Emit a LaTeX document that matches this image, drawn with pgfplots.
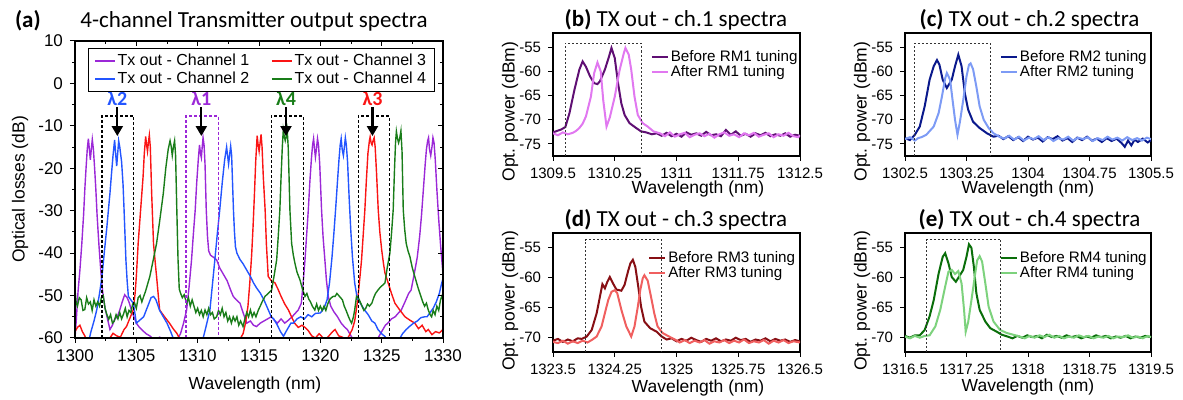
\documentclass[border=0pt]{standalone}
\usepackage{fontspec}
\setmainfont{Liberation Sans}
\newfontfamily\calib{Carlito}
\usepackage{pgfplots}
\pgfplotsset{compat=1.18}
\usetikzlibrary{arrows.meta}

\definecolor{cpur}{RGB}{155,40,215}
\definecolor{cblu}{RGB}{35,85,255}
\definecolor{cred}{RGB}{250,20,20}
\definecolor{cgrn}{RGB}{25,125,25}
\definecolor{bdark}{RGB}{95,15,115}
\definecolor{blight}{RGB}{225,120,240}
\definecolor{cdark}{RGB}{10,25,140}
\definecolor{clight}{RGB}{125,155,245}
\definecolor{ddark}{RGB}{135,15,20}
\definecolor{dlight}{RGB}{240,95,95}
\definecolor{edark}{RGB}{10,110,10}
\definecolor{elight}{RGB}{125,210,125}

\pgfplotsset{
  base/.style={scale only axis, anchor=south west,
    axis line style={line width=0.7pt}, tick style={line width=0.5pt, black},
    tick align=outside, major tick length=2.5pt, minor tick length=1.5pt,
    /pgf/number format/assume math mode=true, /pgf/number format/1000 sep={},
    scaled ticks=false, label style={font=\fontsize{8.75}{9}\selectfont}},
  small/.style={base, width=123.5pt, xtick pos=left, ytick pos=left,
    ticklabel style={font=\fontsize{7.5}{8}\selectfont},
    legend style={draw=none, fill=none, font=\fontsize{7.6}{7.6}\selectfont,
      anchor=north west, row sep=-1.5pt, nodes={inner sep=1pt}},
    legend cell align=left,
    legend image code/.code={\draw[##1,line width=1pt] (0pt,0pt) -- (8pt,0pt);}},
}
\tikzset{lamarrow/.style={-{Triangle[width=5.5pt,length=5pt]}, line width=1.1pt},
  lamlab/.style={font=\calib\bfseries\fontsize{10}{10}\selectfont},
  chbox/.style={line width=0.6pt, dash pattern=on 1.5pt off 1pt},
  dbox/.style={black!80, line width=0.5pt, dash pattern=on 1pt off 1pt}}

\begin{document}
\begin{tikzpicture}
\useasboundingbox (0,0) rectangle (591.5pt,200pt);

% ---------- (a) ----------
\node[anchor=base west, font=\calib\bfseries\fontsize{11.5}{12}\selectfont] at (4pt,186pt) {(a)};
\node[anchor=base, font=\calib\fontsize{11.5}{12}\selectfont] at (127pt,186pt) {4-channel Transmitter output spectra};

\begin{axis}[base, at={(37.5pt,31pt)}, width=184pt, height=148.5pt,
  xmin=1300, xmax=1330, ymin=-60, ymax=10,
  xtick={1300,1305,...,1330}, ytick={-60,-50,...,10},
  minor x tick num=1, minor y tick num=1, xtick pos=left, ytick pos=left,
  ticklabel style={font=\fontsize{8.5}{9}\selectfont},
  xlabel={Wavelength (nm)}, ylabel={Optical losses (dB)},
  xlabel style={at={(axis description cs:0.489,-0.158)}, anchor=center},
  ylabel style={at={(axis description cs:-0.149,0.5)}, anchor=center},
  legend columns=2, legend cell align=left,
  legend style={at={(0.035,0.975)}, anchor=north west, draw=black, line width=0.4pt,
    font=\fontsize{8}{8}\selectfont, nodes={inner sep=0.9pt}, row sep=0pt,
    inner xsep=3pt, inner ysep=1.5pt,
    /tikz/every even column/.append style={column sep=10pt}},
  legend image code/.code={\draw[#1,line width=0.8pt] (0pt,0pt) -- (10pt,0pt);}]

\addplot[cpur, line width=0.7pt] coordinates {
(1300.00,-60) (1300.10,-56) (1300.25,-49) (1300.40,-44) (1300.55,-38) (1300.70,-31)
(1300.80,-25) (1300.90,-20) (1301.00,-15.5) (1301.09,-13) (1301.17,-15.5) (1301.25,-18)
(1301.33,-15.5) (1301.41,-13.2) (1301.50,-15.5) (1301.60,-20) (1301.70,-25) (1301.80,-31)
(1301.95,-38) (1302.10,-44) (1302.25,-49) (1302.45,-53) (1302.65,-55.5) (1302.85,-58)
(1303.05,-57) (1303.25,-55.5) (1303.45,-55) (1303.65,-53.4) (1303.85,-51.5) (1304.05,-49.8)
(1304.25,-50.5) (1304.40,-51.5) (1304.60,-53.4) (1304.80,-55) (1305.00,-56.5) (1305.25,-57.5)
(1305.50,-58.2) (1305.80,-59) (1306.10,-59.5) (1306.50,-60.5) (1306.90,-59.8) (1307.30,-60.5)
(1307.70,-60.2) (1308.10,-61) (1308.40,-60) (1308.60,-59) (1308.85,-56.5) (1309.10,-53.4)
(1309.30,-48) (1309.50,-41.6) (1309.65,-35.5) (1309.80,-29.8) (1309.92,-23.5) (1310.05,-18)
(1310.15,-14.5) (1310.23,-16.5) (1310.30,-17.5) (1310.37,-15) (1310.44,-12.8) (1310.52,-14.5)
(1310.60,-19) (1310.70,-29.8) (1310.80,-36) (1310.90,-39.5) (1311.05,-40.5) (1311.30,-41)
(1311.55,-41.6) (1311.80,-43.5) (1312.10,-45) (1312.40,-46.5) (1312.70,-48.8) (1312.90,-50.2)
(1313.15,-51) (1313.45,-51.8) (1313.70,-54) (1314.00,-56.5) (1314.30,-56) (1314.55,-57)
(1314.80,-57.3) (1315.10,-56.5) (1315.40,-56) (1315.70,-55.5) (1316.00,-55) (1316.25,-55.8)
(1316.50,-56.5) (1316.80,-55.5) (1317.10,-56.5) (1317.40,-55.8) (1317.70,-55) (1317.95,-54.2)
(1318.20,-53.4) (1318.45,-51.8) (1318.60,-47) (1318.75,-41.6) (1318.90,-35) (1319.02,-29.8)
(1319.15,-23) (1319.28,-17.5) (1319.37,-14.5) (1319.45,-13) (1319.53,-15.5) (1319.60,-17.4)
(1319.68,-15.5) (1319.77,-13) (1319.85,-14.5) (1319.95,-19) (1320.10,-29.8) (1320.22,-36)
(1320.37,-41.6) (1320.50,-46.5) (1320.65,-50.2) (1320.85,-52.5) (1321.10,-53.8) (1321.40,-55)
(1321.70,-56.5) (1322.00,-57.5) (1322.20,-58) (1322.50,-59.5) (1322.80,-61) (1323.50,-61)
(1324.20,-61) (1324.70,-60) (1325.00,-58.5) (1325.30,-57) (1325.50,-56.5) (1325.80,-55.5)
(1326.10,-55) (1326.40,-54) (1326.60,-53.4) (1326.90,-51.5) (1327.20,-49.5) (1327.40,-48.7)
(1327.65,-45) (1327.90,-41) (1328.10,-36) (1328.25,-31) (1328.40,-25) (1328.55,-19)
(1328.65,-15.5) (1328.75,-13.5) (1328.82,-12.8) (1328.90,-15.5) (1329.00,-17) (1329.10,-15)
(1329.18,-12.8) (1329.27,-14) (1329.37,-18) (1329.50,-25) (1329.65,-32) (1329.80,-38)
(1330.00,-45)};
\addlegendentry{Tx out - Channel 1}

\addplot[cred, line width=0.7pt] coordinates {
(1300.00,-58.5) (1300.20,-57.5) (1300.40,-57) (1300.60,-58.5) (1300.80,-59.5) (1301.00,-61)
(1301.50,-61.5) (1302.20,-61.5) (1302.80,-60.2) (1303.10,-58.9) (1303.40,-59.5) (1303.70,-59.8)
(1304.00,-58) (1304.20,-57.3) (1304.45,-55.5) (1304.75,-53.4) (1304.90,-49.5) (1305.00,-45.5)
(1305.15,-37.7) (1305.35,-29.8) (1305.55,-22) (1305.65,-16.5) (1305.76,-12.5) (1305.84,-14.5)
(1305.91,-16) (1305.98,-14) (1306.06,-12.2) (1306.14,-15) (1306.25,-25.9) (1306.40,-37.7)
(1306.55,-42.5) (1306.65,-45.5) (1306.90,-53.4) (1307.30,-55) (1307.70,-56.5) (1308.00,-57.8)
(1308.30,-58.9) (1308.60,-60.5) (1309.00,-61.5) (1313.00,-61.5) (1313.40,-60.5) (1313.70,-59)
(1313.90,-56.5) (1314.10,-52.5) (1314.25,-47) (1314.40,-40.5) (1314.52,-33.5) (1314.63,-26)
(1314.73,-18.5) (1314.85,-12.3) (1314.93,-14.5) (1315.01,-16) (1315.09,-14) (1315.17,-12)
(1315.25,-15) (1315.35,-22) (1315.50,-29.8) (1315.60,-37.7) (1315.75,-45.5) (1316.00,-46.5)
(1316.30,-47) (1316.55,-48.5) (1316.80,-50.2) (1317.10,-52) (1317.40,-53.4) (1317.65,-55)
(1317.90,-56.5) (1318.20,-57.5) (1318.50,-57) (1318.75,-57.5) (1319.00,-58.2) (1319.30,-59.5)
(1319.60,-60) (1319.90,-59) (1320.10,-59.6) (1320.40,-60.5) (1320.70,-59.5) (1321.00,-58.5)
(1321.20,-58) (1321.50,-59.5) (1321.80,-59.8) (1322.10,-60.5) (1322.30,-59.7) (1322.60,-58)
(1322.80,-56) (1323.00,-52) (1323.10,-49.4) (1323.25,-45) (1323.36,-41.6) (1323.50,-35.5)
(1323.63,-29.8) (1323.75,-23) (1323.88,-16.5) (1324.00,-13.5) (1324.06,-12.6) (1324.14,-14)
(1324.22,-14.5) (1324.30,-13.5) (1324.39,-12.8) (1324.47,-15) (1324.58,-21) (1324.72,-29.8)
(1324.85,-35) (1325.00,-39.2) (1325.15,-42.5) (1325.27,-44.7) (1325.53,-47) (1325.80,-49.5)
(1326.08,-51.8) (1326.50,-53.5) (1326.90,-55) (1327.30,-55.8) (1327.70,-56.5) (1328.00,-57.8)
(1328.30,-57) (1328.60,-58.5) (1328.80,-58) (1329.10,-59.2) (1329.40,-58.5) (1329.70,-58.8)
(1330.00,-58)};
\addlegendentry{Tx out - Channel 3}

\addplot[cblu, line width=0.7pt] coordinates {
(1300.00,-62) (1300.80,-62) (1301.10,-61) (1301.30,-58.5) (1301.55,-56) (1301.77,-53.4)
(1302.00,-49.5) (1302.20,-45.5) (1302.40,-39.5) (1302.60,-33.8) (1302.75,-29) (1302.85,-25.9)
(1302.97,-21.5) (1303.10,-17) (1303.23,-13.3) (1303.31,-16.5) (1303.40,-19.5) (1303.48,-16.5)
(1303.56,-13.5) (1303.65,-15) (1303.80,-18.5) (1303.92,-24) (1304.00,-29.8) (1304.08,-36)
(1304.15,-41.6) (1304.25,-46.5) (1304.35,-50.2) (1304.55,-51) (1304.75,-51.8) (1304.90,-54.5)
(1305.00,-56.5) (1305.20,-56) (1305.40,-55.5) (1305.60,-55) (1305.80,-53.5) (1306.00,-52)
(1306.20,-50.5) (1306.40,-50.2) (1306.60,-51) (1306.90,-53.5) (1307.20,-55) (1307.50,-56.5)
(1307.80,-58.5) (1308.00,-60) (1308.30,-61.5) (1309.80,-62) (1310.20,-61.5) (1310.45,-60)
(1310.75,-56.5) (1311.00,-53.4) (1311.20,-47.5) (1311.40,-41.6) (1311.60,-35.5) (1311.80,-29.8)
(1312.00,-23.5) (1312.20,-18) (1312.36,-15) (1312.44,-17) (1312.52,-19) (1312.60,-17)
(1312.69,-14.8) (1312.77,-17) (1312.85,-24) (1312.92,-30) (1313.00,-35) (1313.08,-38.5)
(1313.20,-40) (1313.45,-41.5) (1313.70,-42.5) (1314.00,-44) (1314.30,-45.5) (1314.55,-47)
(1314.80,-48.2) (1315.10,-49.4) (1315.40,-51) (1315.70,-53) (1316.00,-55) (1316.20,-55.5)
(1316.50,-57) (1316.75,-58.5) (1317.00,-59.6) (1317.20,-58.5) (1317.40,-57.5) (1317.60,-56.5)
(1317.80,-56.5) (1318.10,-55.5) (1318.40,-55) (1318.70,-55.5) (1319.00,-54.5) (1319.30,-55)
(1319.60,-54.2) (1320.00,-54.1) (1320.30,-53) (1320.55,-51) (1320.75,-47) (1320.95,-41)
(1321.10,-35.5) (1321.25,-29.5) (1321.40,-23) (1321.52,-18) (1321.62,-14.5) (1321.70,-13)
(1321.78,-15.5) (1321.88,-17) (1321.96,-15) (1322.04,-12.8) (1322.12,-14.5) (1322.22,-18.5)
(1322.35,-27) (1322.48,-34.5) (1322.62,-41) (1322.80,-47) (1323.00,-50.5) (1323.30,-52)
(1323.60,-53.4) (1323.90,-54.5) (1324.20,-56) (1324.45,-56.5) (1324.70,-58) (1325.00,-59)
(1325.25,-59.6) (1325.50,-60.5) (1325.80,-61) (1326.10,-61.5) (1326.40,-60.5) (1326.70,-59)
(1327.00,-58) (1327.30,-57.2) (1327.60,-56.5) (1327.90,-56) (1328.20,-55.2) (1328.50,-55)
(1328.70,-55) (1328.95,-54) (1329.20,-53) (1329.45,-51.5) (1329.70,-49.5) (1329.90,-47)
(1330.00,-46)};
\addlegendentry{Tx out - Channel 2}

\addplot[cgrn, line width=0.7pt] coordinates {
(1300.00,-48.6) (1300.10,-51.7) (1300.20,-52.5) (1300.35,-50.5) (1300.50,-51) (1300.65,-53.5)
(1300.80,-53.3) (1300.95,-50.5) (1301.10,-52) (1301.25,-51.5) (1301.40,-53.5) (1301.55,-51)
(1301.70,-52.5) (1301.85,-51.5) (1302.00,-52.5) (1302.15,-50.5) (1302.30,-50) (1302.45,-53)
(1302.60,-54.5) (1302.75,-55.6) (1302.90,-54.5) (1303.05,-56.5) (1303.20,-56) (1303.35,-54.5)
(1303.50,-55.5) (1303.65,-54) (1303.80,-55.5) (1303.95,-54.4) (1304.10,-53) (1304.25,-55)
(1304.40,-53.5) (1304.55,-54) (1304.70,-52) (1304.85,-51.7) (1305.00,-53) (1305.15,-50.5)
(1305.30,-50) (1305.45,-51.5) (1305.60,-50.2) (1305.75,-49) (1305.90,-47.5) (1306.10,-45.5)
(1306.35,-42) (1306.65,-37.7) (1306.90,-32.5) (1307.20,-25.9) (1307.40,-20) (1307.60,-15.5)
(1307.75,-13.5) (1307.84,-14.8) (1307.93,-17) (1308.02,-15) (1308.12,-13.5) (1308.20,-17)
(1308.30,-29.8) (1308.40,-41.6) (1308.50,-48.5) (1308.60,-49.4) (1308.75,-50.5) (1308.90,-49.8)
(1309.10,-51.8) (1309.25,-50.5) (1309.40,-52.5) (1309.55,-51) (1309.70,-52.5) (1309.85,-54)
(1310.00,-53) (1310.15,-54.5) (1310.30,-53.5) (1310.45,-55) (1310.60,-53.4) (1310.75,-54.5)
(1310.90,-53) (1311.05,-54.5) (1311.20,-54) (1311.35,-55.5) (1311.55,-55) (1311.70,-53.5)
(1311.85,-54.5) (1312.00,-53) (1312.15,-55) (1312.30,-54) (1312.45,-56) (1312.60,-55)
(1312.75,-56.5) (1312.90,-55) (1313.05,-56) (1313.20,-55) (1313.35,-57) (1313.50,-56)
(1313.70,-57.3) (1313.85,-55.5) (1314.00,-54) (1314.15,-55) (1314.30,-53.4) (1314.45,-55)
(1314.60,-54) (1314.75,-55) (1314.95,-53.4) (1315.10,-52.5) (1315.25,-51.5) (1315.49,-50.2)
(1315.75,-49.5) (1316.03,-48.7) (1316.25,-45) (1316.44,-41.6) (1316.57,-36) (1316.70,-29.8)
(1316.80,-22) (1316.90,-15) (1316.98,-11) (1317.06,-12.5) (1317.14,-13.5) (1317.22,-12.5)
(1317.30,-11) (1317.38,-15) (1317.45,-22) (1317.52,-29.8) (1317.66,-37.7) (1317.80,-40.5)
(1317.93,-42.4) (1318.10,-44.5) (1318.34,-46.3) (1318.55,-48.5) (1318.75,-50.2) (1318.90,-49.5)
(1319.05,-50.8) (1319.20,-51.5) (1319.35,-52.5) (1319.55,-53.4) (1319.70,-52) (1319.85,-53.5)
(1320.00,-52.5) (1320.15,-53.5) (1320.30,-52.5) (1320.45,-53.5) (1320.60,-52) (1320.75,-51)
(1320.90,-50.5) (1321.05,-50.2) (1321.20,-50.2) (1321.35,-49.5) (1321.50,-50) (1321.65,-50.5)
(1321.80,-51) (1321.95,-52.5) (1322.10,-53.5) (1322.30,-55) (1322.45,-56) (1322.55,-56.5)
(1322.70,-55) (1322.80,-53.4) (1322.95,-50.2) (1323.10,-50.5) (1323.25,-51.5) (1323.40,-52.5)
(1323.55,-53.5) (1323.70,-53) (1323.85,-52) (1324.00,-52.5) (1324.20,-51.8) (1324.35,-50.5)
(1324.50,-49.5) (1324.70,-48.7) (1324.90,-48) (1325.10,-47.5) (1325.27,-47) (1325.45,-43.5)
(1325.67,-40) (1325.80,-35.5) (1325.94,-29.8) (1326.05,-20) (1326.13,-14) (1326.20,-11.3)
(1326.29,-13) (1326.38,-14) (1326.47,-13) (1326.57,-11.2) (1326.66,-16) (1326.76,-29.8)
(1326.88,-34.5) (1327.00,-37.7) (1327.15,-39.5) (1327.30,-40.8) (1327.50,-43.5) (1327.70,-45.5)
(1327.95,-48) (1328.20,-50.2) (1328.35,-51.5) (1328.50,-52.5) (1328.65,-51.8) (1328.80,-53.4)
(1328.95,-54.5) (1329.07,-55) (1329.20,-53.5) (1329.35,-54.5) (1329.50,-52.5) (1329.65,-53.5)
(1329.80,-51) (1329.90,-50.2) (1330.00,-51)};
\addlegendentry{Tx out - Channel 4}

% channel markers
\draw[chbox, black] (axis cs:1302.2,-60) -- (axis cs:1302.2,-7.7) -- (axis cs:1304.8,-7.7) -- (axis cs:1304.8,-60);
\draw[chbox, cpur] (axis cs:1309.05,-60) -- (axis cs:1309.05,-7.7) -- (axis cs:1311.7,-7.7) -- (axis cs:1311.7,-60);
\draw[chbox, black] (axis cs:1316.0,-60) -- (axis cs:1316.0,-7.7) -- (axis cs:1318.6,-7.7) -- (axis cs:1318.6,-60);
\draw[chbox, black] (axis cs:1323.1,-60) -- (axis cs:1323.1,-7.7) -- (axis cs:1325.65,-7.7) -- (axis cs:1325.65,-60);
\draw[lamarrow] (axis cs:1303.45,-5.6) -- (axis cs:1303.45,-12.4);
\draw[lamarrow] (axis cs:1310.3,-5.6) -- (axis cs:1310.3,-12.4);
\draw[lamarrow] (axis cs:1317.2,-5.6) -- (axis cs:1317.2,-12.4);
\draw[lamarrow] (axis cs:1324.25,-5.6) -- (axis cs:1324.25,-12.4);
\node[lamlab, text=cblu] at (axis cs:1303.45,-3.6) {λ2};
\node[lamlab, text=cpur] at (axis cs:1310.3,-3.6) {λ1};
\node[lamlab, text=cgrn] at (axis cs:1317.2,-3.6) {λ4};
\node[lamlab, text=cred] at (axis cs:1324.25,-3.6) {λ3};
\end{axis}

% mirrored inward ticks on top and right of (a)
\begin{axis}[base, at={(37.5pt,31pt)}, width=184pt, height=148.5pt,
  xmin=1300, xmax=1330, ymin=-60, ymax=10,
  xtick={1300,1305,...,1330}, ytick={-60,-50,...,10},
  minor x tick num=1, minor y tick num=1, tick align=inside,
  xtick pos=right, ytick pos=right, xticklabels={}, yticklabels={}]
\end{axis}

% ---------- (b) ----------
\node[anchor=base, font=\calib\fontsize{11.5}{12}\selectfont] at (338pt,186.75pt) {\textbf{(b)} TX out - ch.1 spectra};
\begin{axis}[small, at={(276.5pt,122pt)}, height=61.5pt,
  xmin=1309.5, xmax=1312.5, ymin=-77.5, ymax=-52,
  xtick={1309.5,1310.25,1311,1311.75,1312.5}, ytick={-75,-70,...,-55},
  xlabel={Wavelength (nm)}, ylabel={Opt. power (dBm)},
  xlabel style={at={(axis description cs:0.587,-0.265)}, anchor=center},
  ylabel style={at={(axis description cs:-0.174,0.36)}, anchor=center},
  legend style={at={(0.37,0.91)}}]
\addplot[bdark, line width=1pt] coordinates {
(1309.50,-72.6) (1309.55,-72.3) (1309.60,-72.0) (1309.65,-71.5) (1309.70,-68.6) (1309.76,-63.8)
(1309.82,-59.6) (1309.86,-57.9) (1309.90,-59.0) (1309.95,-61.0) (1310.00,-62.4) (1310.04,-62.6)
(1310.07,-62.0) (1310.13,-59.6) (1310.18,-56.9) (1310.21,-55.1) (1310.25,-57.2) (1310.29,-62.4)
(1310.33,-66.6) (1310.37,-69.0) (1310.43,-70.7) (1310.51,-71.7) (1310.57,-72.4) (1310.63,-72.6)
(1310.70,-73.0) (1310.76,-72.8) (1310.82,-73.3) (1310.88,-72.7) (1310.94,-73.4) (1311.00,-72.9)
(1311.06,-73.5) (1311.12,-72.6) (1311.18,-73.1) (1311.24,-72.8) (1311.30,-73.3) (1311.36,-72.5)
(1311.42,-73.2) (1311.48,-73.0) (1311.54,-73.4) (1311.60,-72.1) (1311.66,-73.1) (1311.72,-72.4)
(1311.78,-73.3) (1311.84,-72.9) (1311.90,-73.5) (1311.96,-72.8) (1312.02,-73.2) (1312.08,-72.7)
(1312.14,-73.4) (1312.20,-73.0) (1312.26,-73.3) (1312.32,-72.8) (1312.38,-73.5) (1312.44,-73.1)
(1312.50,-73.3)};
\addlegendentry{Before RM1 tuning}
\addplot[blight, line width=1pt] coordinates {
(1309.50,-72.8) (1309.56,-73.2) (1309.62,-72.6) (1309.68,-73.0) (1309.74,-72.7) (1309.78,-72.3)
(1309.82,-71.7) (1309.86,-70.8) (1309.90,-69.3) (1309.96,-65.2) (1310.00,-60.3) (1310.04,-58.1)
(1310.08,-60.0) (1310.11,-65.9) (1310.15,-71.4) (1310.19,-69.5) (1310.25,-65.2) (1310.31,-59.6)
(1310.36,-56.2) (1310.38,-55.1) (1310.42,-56.5) (1310.45,-59.6) (1310.49,-65.2) (1310.53,-69.0)
(1310.59,-70.7) (1310.65,-71.4) (1310.72,-72.4) (1310.80,-72.8) (1310.86,-73.4) (1310.92,-72.6)
(1310.98,-73.5) (1311.04,-73.0) (1311.10,-72.7) (1311.16,-73.6) (1311.22,-73.1) (1311.28,-72.8)
(1311.34,-73.4) (1311.40,-72.9) (1311.46,-73.7) (1311.52,-73.0) (1311.58,-72.6) (1311.64,-73.3)
(1311.70,-73.0) (1311.76,-73.6) (1311.82,-72.8) (1311.88,-73.2) (1311.94,-72.7) (1312.00,-73.5)
(1312.06,-73.1) (1312.12,-72.8) (1312.18,-73.6) (1312.24,-73.0) (1312.30,-73.3) (1312.36,-72.7)
(1312.42,-73.4) (1312.48,-73.6) (1312.50,-73.2)};
\addlegendentry{After RM1 tuning}
\draw[dbox] (axis cs:1309.65,-77.5) -- (axis cs:1309.65,-54.1) -- (axis cs:1310.57,-54.1) -- (axis cs:1310.57,-77.5);
\end{axis}

% ---------- (c) ----------
\node[anchor=base, font=\calib\fontsize{11.5}{12}\selectfont] at (514.75pt,186.75pt) {\textbf{(c)} TX out - ch.2 spectra};
\begin{axis}[small, at={(452.5pt,122pt)}, width=123pt, height=61.5pt,
  xmin=1302.5, xmax=1305.5, ymin=-77.5, ymax=-52,
  xtick={1302.5,1303.25,1304,1304.75,1305.5}, ytick={-75,-70,...,-55},
  xlabel={Wavelength (nm)}, ylabel={Opt. power (dBm)},
  xlabel style={at={(axis description cs:0.5,-0.265)}, anchor=center},
  ylabel style={at={(axis description cs:-0.174,0.36)}, anchor=center},
  legend style={at={(0.36,0.91)}}]
\addplot[cdark, line width=1pt] coordinates {
(1302.50,-73.8) (1302.56,-74.2) (1302.62,-73.1) (1302.68,-71.4) (1302.74,-67.2) (1302.80,-61.7)
(1302.85,-58.9) (1302.89,-57.6) (1302.92,-58.6) (1302.96,-61.7) (1303.01,-63.4) (1303.07,-61.7)
(1303.11,-58.9) (1303.15,-56.5) (1303.19,-58.9) (1303.23,-64.5) (1303.27,-67.9) (1303.33,-70.4)
(1303.41,-71.7) (1303.50,-72.8) (1303.58,-73.5) (1303.64,-73.3) (1303.70,-74.0) (1303.76,-73.4)
(1303.82,-74.2) (1303.88,-73.6) (1303.94,-74.4) (1304.00,-73.5) (1304.06,-74.1) (1304.12,-73.7)
(1304.18,-74.5) (1304.24,-73.6) (1304.30,-74.0) (1304.36,-73.4) (1304.42,-74.3) (1304.48,-73.8)
(1304.54,-74.6) (1304.60,-73.7) (1304.66,-74.2) (1304.72,-73.5) (1304.78,-74.3) (1304.84,-73.9)
(1304.90,-74.6) (1304.96,-73.8) (1305.02,-74.4) (1305.08,-73.9) (1305.14,-74.8) (1305.18,-75.6)
(1305.22,-74.3) (1305.26,-75.3) (1305.30,-74.1) (1305.34,-74.6) (1305.40,-73.9) (1305.46,-74.7)
(1305.50,-74.2)};
\addlegendentry{Before RM2 tuning}
\addplot[clight, line width=1pt] coordinates {
(1302.50,-74.0) (1302.56,-73.6) (1302.62,-74.3) (1302.66,-73.8) (1302.70,-73.6) (1302.76,-73.1)
(1302.85,-71.4) (1302.91,-68.6) (1302.95,-65.2) (1302.99,-61.4) (1303.01,-60.3) (1303.05,-61.7)
(1303.08,-65.9) (1303.11,-70.0) (1303.14,-73.1) (1303.17,-70.4) (1303.21,-65.9) (1303.25,-61.0)
(1303.28,-58.6) (1303.30,-58.3) (1303.33,-59.5) (1303.37,-63.1) (1303.41,-67.2) (1303.46,-70.0)
(1303.52,-71.7) (1303.58,-72.8) (1303.65,-73.5) (1303.71,-73.9) (1303.77,-73.3) (1303.83,-74.1)
(1303.89,-73.5) (1303.95,-74.3) (1304.01,-73.7) (1304.07,-74.0) (1304.13,-73.4) (1304.19,-74.2)
(1304.25,-73.6) (1304.31,-74.4) (1304.37,-73.8) (1304.43,-74.1) (1304.49,-73.5) (1304.55,-74.3)
(1304.61,-73.7) (1304.67,-74.0) (1304.73,-73.6) (1304.79,-74.4) (1304.85,-73.8) (1304.91,-74.2)
(1304.97,-73.5) (1305.03,-74.1) (1305.09,-73.7) (1305.15,-74.3) (1305.21,-73.6) (1305.27,-74.2)
(1305.33,-73.8) (1305.39,-74.3) (1305.45,-73.7) (1305.50,-74.0)};
\addlegendentry{After RM2 tuning}
\draw[dbox] (axis cs:1302.62,-77.5) -- (axis cs:1302.62,-54.1) -- (axis cs:1303.54,-54.1) -- (axis cs:1303.54,-77.5);
\end{axis}

% ---------- (d) ----------
\node[anchor=base, font=\calib\fontsize{11.5}{12}\selectfont] at (338pt,86.75pt) {\textbf{(d)} TX out - ch.3 spectra};
\begin{axis}[small, at={(276.5pt,24pt)}, height=59.5pt,
  xmin=1323.5, xmax=1326.5, ymin=-72.5, ymax=-52.5,
  xtick={1323.5,1324.25,1325,1325.75,1326.5}, ytick={-70,-65,...,-55},
  xlabel={Wavelength (nm)}, ylabel={Opt. power (dBm)},
  xlabel style={at={(axis description cs:0.587,-0.3)}, anchor=center},
  ylabel style={at={(axis description cs:-0.174,0.43)}, anchor=center},
  legend style={at={(0.36,0.9)}}]
\addplot[ddark, line width=1pt] coordinates {
(1323.50,-70.6) (1323.56,-70.3) (1323.62,-70.8) (1323.68,-70.4) (1323.74,-70.7) (1323.80,-70.2)
(1323.85,-70.3) (1323.91,-69.9) (1323.97,-68.8) (1324.03,-66.0) (1324.07,-63.2) (1324.10,-61.1)
(1324.13,-61.8) (1324.16,-60.7) (1324.19,-59.9) (1324.23,-61.0) (1324.27,-62.0) (1324.33,-62.2)
(1324.37,-61.2) (1324.41,-59.0) (1324.44,-57.6) (1324.47,-57.0) (1324.50,-58.2) (1324.53,-61.0)
(1324.57,-64.9) (1324.61,-67.4) (1324.68,-68.5) (1324.76,-69.1) (1324.82,-69.9) (1324.88,-70.4)
(1324.94,-70.2) (1325.00,-70.7) (1325.06,-70.3) (1325.12,-70.6) (1325.18,-70.1) (1325.24,-70.5)
(1325.30,-70.8) (1325.36,-70.3) (1325.42,-70.6) (1325.48,-70.2) (1325.54,-70.7) (1325.60,-70.4)
(1325.66,-70.6) (1325.72,-70.1) (1325.78,-70.5) (1325.84,-70.3) (1325.90,-70.8) (1325.96,-70.4)
(1326.02,-70.6) (1326.08,-70.2) (1326.14,-70.7) (1326.20,-70.3) (1326.26,-70.6) (1326.32,-70.4)
(1326.38,-70.8) (1326.44,-70.5) (1326.50,-70.7)};
\addlegendentry{Before RM3 tuning}
\addplot[dlight, line width=1pt] coordinates {
(1323.50,-70.8) (1323.56,-71.0) (1323.62,-70.6) (1323.68,-71.1) (1323.74,-70.7) (1323.80,-71.0)
(1323.86,-70.6) (1323.92,-70.9) (1323.98,-70.4) (1324.03,-69.9) (1324.09,-68.2) (1324.13,-66.0)
(1324.17,-63.8) (1324.21,-62.4) (1324.25,-62.1) (1324.28,-62.6) (1324.33,-65.4) (1324.39,-68.2)
(1324.45,-69.9) (1324.49,-68.2) (1324.53,-64.9) (1324.56,-62.1) (1324.59,-60.1) (1324.61,-59.6)
(1324.65,-60.5) (1324.69,-63.2) (1324.73,-66.0) (1324.77,-68.2) (1324.83,-69.3) (1324.91,-69.9)
(1324.98,-70.4) (1325.04,-70.9) (1325.10,-70.5) (1325.16,-71.0) (1325.22,-70.6) (1325.28,-70.9)
(1325.34,-70.5) (1325.40,-71.1) (1325.46,-70.7) (1325.52,-70.9) (1325.58,-70.5) (1325.64,-71.0)
(1325.70,-70.6) (1325.76,-70.9) (1325.82,-70.4) (1325.88,-71.0) (1325.94,-70.7) (1326.00,-70.9)
(1326.06,-70.5) (1326.12,-71.1) (1326.18,-70.6) (1326.24,-70.9) (1326.30,-70.5) (1326.36,-71.0)
(1326.42,-70.7) (1326.50,-70.9)};
\addlegendentry{After RM3 tuning}
\draw[dbox] (axis cs:1323.9,-72.5) -- (axis cs:1323.9,-53.6) -- (axis cs:1324.82,-53.6) -- (axis cs:1324.82,-72.5);
\end{axis}

% ---------- (e) ----------
\node[anchor=base, font=\calib\fontsize{11.5}{12}\selectfont] at (514.75pt,86.75pt) {\textbf{(e)} TX out - ch.4 spectra};
\begin{axis}[small, at={(452.5pt,24pt)}, width=123pt, height=59.5pt,
  xmin=1316.5, xmax=1319.5, ymin=-72.5, ymax=-52.5,
  xtick={1316.5,1317.25,1318,1318.75,1319.5}, ytick={-70,-65,...,-55},
  xlabel={Wavelength (nm)}, ylabel={Opt. power (dBm)},
  xlabel style={at={(axis description cs:0.5,-0.29)}, anchor=center},
  ylabel style={at={(axis description cs:-0.174,0.43)}, anchor=center},
  legend style={at={(0.36,0.9)}}]
\addplot[edark, line width=1pt] coordinates {
(1316.50,-69.8) (1316.56,-70.1) (1316.62,-69.7) (1316.68,-69.7) (1316.74,-68.8) (1316.80,-66.5)
(1316.85,-63.8) (1316.91,-59.3) (1316.96,-56.5) (1316.99,-55.9) (1317.03,-57.6) (1317.07,-59.9)
(1317.12,-60.7) (1317.17,-59.6) (1317.21,-58.7) (1317.25,-56.5) (1317.28,-54.4) (1317.31,-55.0)
(1317.34,-58.2) (1317.37,-62.6) (1317.41,-65.4) (1317.48,-67.4) (1317.54,-68.5) (1317.62,-69.1)
(1317.68,-69.6) (1317.75,-69.9) (1317.81,-70.2) (1317.87,-69.8) (1317.93,-70.1) (1317.99,-69.7)
(1318.05,-70.0) (1318.11,-69.8) (1318.17,-70.2) (1318.23,-69.6) (1318.29,-70.0) (1318.35,-69.8)
(1318.41,-70.1) (1318.47,-69.7) (1318.53,-70.0) (1318.59,-69.8) (1318.65,-70.2) (1318.71,-69.9)
(1318.77,-70.1) (1318.83,-69.7) (1318.89,-70.0) (1318.95,-69.8) (1319.01,-70.2) (1319.07,-69.9)
(1319.13,-70.1) (1319.19,-69.8) (1319.25,-70.2) (1319.31,-69.9) (1319.37,-70.1) (1319.43,-69.8)
(1319.50,-70.0)};
\addlegendentry{Before RM4 tuning}
\addplot[elight, line width=1pt] coordinates {
(1316.50,-69.9) (1316.56,-70.2) (1316.62,-69.8) (1316.68,-70.1) (1316.74,-69.8) (1316.80,-69.7)
(1316.87,-68.2) (1316.93,-65.4) (1316.99,-61.5) (1317.03,-59.0) (1317.07,-58.7) (1317.11,-59.4)
(1317.15,-58.9) (1317.19,-61.0) (1317.22,-65.4) (1317.24,-69.1) (1317.27,-67.5) (1317.31,-63.8)
(1317.35,-59.9) (1317.38,-57.1) (1317.41,-56.4) (1317.44,-57.3) (1317.48,-61.0) (1317.52,-64.9)
(1317.58,-67.4) (1317.66,-68.8) (1317.74,-69.3) (1317.82,-69.6) (1317.90,-69.9) (1317.96,-70.2)
(1318.02,-69.8) (1318.08,-70.1) (1318.14,-69.7) (1318.20,-70.0) (1318.26,-69.6) (1318.32,-70.1)
(1318.38,-69.8) (1318.44,-70.2) (1318.50,-69.9) (1318.56,-70.1) (1318.62,-69.7) (1318.68,-70.0)
(1318.74,-69.8) (1318.80,-70.2) (1318.86,-69.9) (1318.92,-70.1) (1318.98,-69.8) (1319.04,-70.2)
(1319.10,-69.9) (1319.16,-70.0) (1319.22,-69.7) (1319.28,-70.1) (1319.34,-69.9) (1319.40,-70.2)
(1319.46,-69.8) (1319.50,-70.0)};
\addlegendentry{After RM4 tuning}
\draw[dbox] (axis cs:1316.76,-72.5) -- (axis cs:1316.76,-53.6) -- (axis cs:1317.67,-53.6) -- (axis cs:1317.67,-72.5);
\end{axis}
\end{tikzpicture}
\end{document}
